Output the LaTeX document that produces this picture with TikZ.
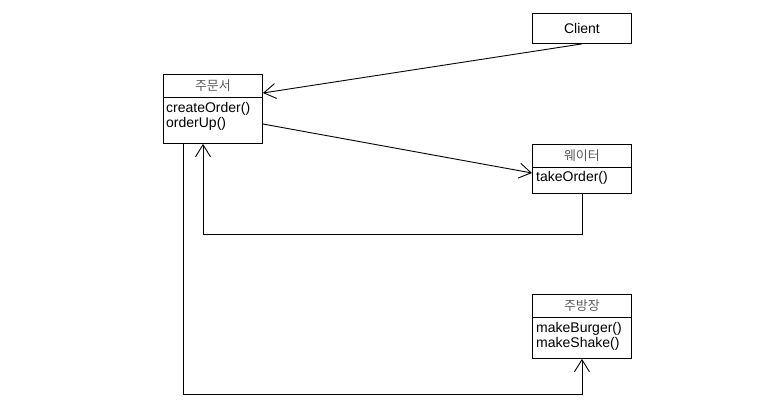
\documentclass[tikz,border=0pt]{standalone}
\usepackage{fontspec}
\setmainfont{Liberation Sans}
\newfontfamily\krfont{Noto Sans CJK KR}
\usetikzlibrary{arrows.meta, positioning, calc}
\definecolor{headgray}{RGB}{90,90,90}
\tikzset{
    umlbox/.style={draw, line width=0.9pt, minimum width=99pt, inner sep=0pt, anchor=north west},
    heading/.style={minimum height=23pt, inner sep=0pt, text=headgray, font=\krfont\fontsize{13}{14}\selectfont},
    ops/.style={anchor=north west, inner sep=0pt, align=left},
    link/.style={line width=0.9pt, -{Straight Barb[length=12pt, width=15pt]}}
}

\begin{document}
\begin{tikzpicture}[x=1pt, y=-1pt, font=\fontsize{14}{15.5}\selectfont]
    \useasboundingbox (0,0) rectangle (779,410);
    % classes
    \node[umlbox, minimum height=30pt] (client) at (532,13) {Client};

    \node[umlbox, minimum height=69pt] (order) at (163,74) {};
    \node[heading, below=0pt of order.north] (orderhead) {주문서};
    \draw[line width=0.9pt] (orderhead.south -| order.west) -- (orderhead.south -| order.east);
    \node[ops] (orderops) at (166,102) {createOrder()\\orderUp()};

    \node[umlbox, minimum height=49pt] (waiter) at (532,144) {};
    \node[heading, below=0pt of waiter.north] (waiterhead) {웨이터};
    \draw[line width=0.9pt] (waiterhead.south -| waiter.west) -- (waiterhead.south -| waiter.east);
    \node[ops] (waiterops) at (536,171) {takeOrder()};

    \node[umlbox, minimum height=64pt] (chef) at (532,294) {};
    \node[heading, below=0pt of chef.north] (chefhead) {주방장};
    \draw[line width=0.9pt] (chefhead.south -| chef.west) -- (chefhead.south -| chef.east);
    \node[ops] (chefops) at (536,322) {makeBurger()\\makeShake()};

    % connectors
    \coordinate (orderin) at ($(order.north east)+(0,19)$);
    \coordinate (orderout) at ($(order.north east)+(0,50)$);
    \coordinate (waiterin) at ($(waiter.north west)+(0,29)$);
    \coordinate (backturn) at ($(order.south west)+(40,91)$);
    \coordinate (orderdown) at ($(order.south west)+(20,0)$);

    \draw[link] (client.south) -- (orderin);
    \draw[link] (orderout) -- (waiterin);
    \draw[link] (waiter.south) |- (backturn) -- (backturn |- order.south);
    \draw[link] (orderdown) |- ($(chef.south)+(0,36)$) -- (chef.south);
\end{tikzpicture}
\end{document}
